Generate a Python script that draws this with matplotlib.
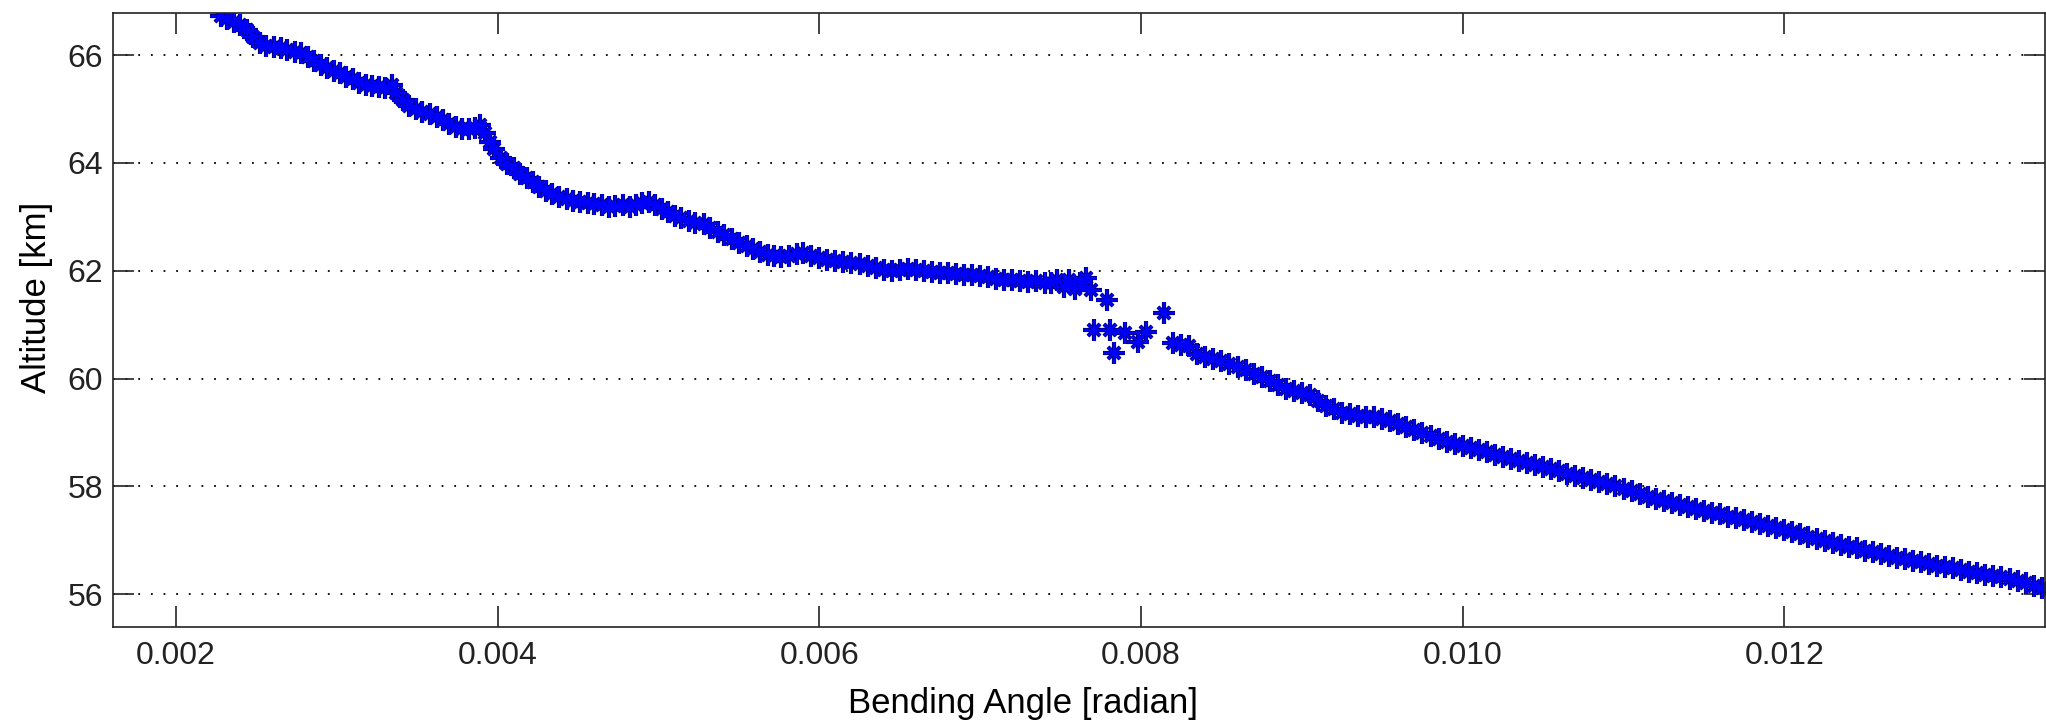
import matplotlib
matplotlib.use("Agg")
import matplotlib.pyplot as plt
from matplotlib.ticker import FormatStrFormatter

# upper part of the profile (above ~64 km)
angle_top = [0.00228, 0.00232, 0.00236, 0.00240, 0.00244, 0.00248, 0.00252, 0.00256, 0.00261, 0.00265,
             0.00269, 0.00274, 0.00278, 0.00282, 0.00286, 0.00290, 0.00294, 0.00298, 0.00302, 0.00306,
             0.00310, 0.00314, 0.00318, 0.00322, 0.00326, 0.00330, 0.00334, 0.00337, 0.00341, 0.00345,
             0.00349, 0.00353, 0.00358, 0.00362, 0.00366, 0.00370, 0.00374, 0.00378, 0.00382, 0.00386,
             0.00389, 0.00392, 0.00395, 0.00398]
alt_top = [66.72, 66.66, 66.62, 66.55, 66.46, 66.33, 66.22, 66.17, 66.15, 66.13,
           66.10, 66.06, 66.03, 65.97, 65.88, 65.81, 65.76, 65.71, 65.66, 65.60,
           65.55, 65.48, 65.45, 65.43, 65.41, 65.38, 65.44, 65.30, 65.17, 65.06,
           65.00, 64.95, 64.90, 64.85, 64.80, 64.72, 64.66, 64.63, 64.62, 64.64,
           64.70, 64.55, 64.39, 64.25]

angle_mid = [0.00402, 0.00406, 0.00410, 0.00414, 0.00418, 0.00422, 0.00426, 0.00430, 0.00434, 0.00438,
             0.00443, 0.00447, 0.00451, 0.00456, 0.00460, 0.00465, 0.00469, 0.00473, 0.00478, 0.00482,
             0.00486, 0.00490, 0.00494, 0.00498, 0.00502, 0.00506, 0.00510, 0.00514, 0.00519, 0.00523,
             0.00528]
alt_mid = [64.09, 63.98, 63.90, 63.80, 63.72, 63.64, 63.56, 63.48, 63.42, 63.37,
           63.33, 63.30, 63.27, 63.25, 63.23, 63.21, 63.18, 63.20, 63.22, 63.19,
           63.21, 63.25, 63.27, 63.22, 63.15, 63.08, 63.02, 62.97, 62.92, 62.89,
           62.86]

angle_flat = [0.00532, 0.00537, 0.00541, 0.00546, 0.00550, 0.00555, 0.00559, 0.00563, 0.00568, 0.00572,
              0.00576, 0.00581, 0.00586, 0.00590, 0.00595, 0.00600, 0.00605, 0.00610, 0.00615, 0.00620,
              0.00625, 0.00630, 0.00635, 0.00640, 0.00645, 0.00650, 0.00655, 0.00660, 0.00665, 0.00670,
              0.00675, 0.00680, 0.00685, 0.00690, 0.00695, 0.00700, 0.00705, 0.00710, 0.00715, 0.00720,
              0.00725, 0.00730, 0.00735, 0.00740, 0.00744, 0.00748, 0.00752, 0.00755, 0.00759, 0.00762,
              0.00766, 0.00769]
alt_flat = [62.80, 62.72, 62.66, 62.58, 62.52, 62.46, 62.40, 62.34, 62.30, 62.27,
            62.25, 62.28, 62.31, 62.33, 62.28, 62.24, 62.20, 62.18, 62.17, 62.14,
            62.12, 62.09, 62.05, 62.01, 62.00, 62.02, 62.03, 62.01, 61.99, 61.98,
            61.96, 61.95, 61.93, 61.92, 61.92, 61.90, 61.88, 61.85, 61.83, 61.82,
            61.80, 61.79, 61.80, 61.78, 61.77, 61.82, 61.70, 61.83, 61.66, 61.78,
            61.86, 61.64]

# scattered points around 0.008 rad
angle_gap = [0.00779, 0.00771, 0.00781, 0.00783, 0.00790, 0.00798, 0.00803, 0.00814]
alt_gap = [61.45, 60.90, 60.90, 60.47, 60.84, 60.68, 60.86, 61.21]

angle_low = [0.00820, 0.00825, 0.00830, 0.00835, 0.00840, 0.00845, 0.00850, 0.00855, 0.00860, 0.00865,
             0.00870, 0.00875, 0.00880, 0.00885, 0.00890, 0.00895, 0.00900, 0.00905, 0.00910, 0.00915,
             0.00920, 0.00925, 0.00930, 0.00935, 0.00940, 0.00945, 0.00950, 0.00955, 0.00960, 0.00965,
             0.00970, 0.00975, 0.00980, 0.00985, 0.00990, 0.00995, 0.01000, 0.01005, 0.01010, 0.01015,
             0.01020, 0.01025, 0.01030, 0.01035, 0.01040, 0.01045, 0.01050, 0.01055, 0.01060, 0.01065,
             0.01070, 0.01075, 0.01080, 0.01085, 0.01090, 0.01095, 0.01100, 0.01105, 0.01110, 0.01115,
             0.01120, 0.01125, 0.01130, 0.01135, 0.01140, 0.01145, 0.01150, 0.01155, 0.01160, 0.01165,
             0.01170, 0.01175, 0.01180, 0.01185, 0.01190, 0.01195, 0.01200, 0.01205, 0.01210, 0.01215,
             0.01220, 0.01225, 0.01230, 0.01235, 0.01240, 0.01245, 0.01250, 0.01255, 0.01260, 0.01265,
             0.01270, 0.01275, 0.01280, 0.01285, 0.01290, 0.01295, 0.01300, 0.01305, 0.01310, 0.01315,
             0.01320, 0.01325, 0.01330, 0.01335, 0.01340, 0.01345, 0.01350, 0.01355, 0.01360, 0.01364]
alt_low = [60.66, 60.63, 60.60, 60.46, 60.40, 60.36, 60.33, 60.27, 60.21, 60.15,
           60.09, 60.03, 59.96, 59.88, 59.80, 59.76, 59.74, 59.70, 59.58, 59.50,
           59.43, 59.37, 59.34, 59.31, 59.29, 59.28, 59.25, 59.21, 59.16, 59.11,
           59.05, 58.99, 58.93, 58.87, 58.83, 58.79, 58.75, 58.72, 58.68, 58.63,
           58.58, 58.54, 58.50, 58.47, 58.43, 58.40, 58.36, 58.33, 58.28, 58.23,
           58.19, 58.15, 58.12, 58.08, 58.05, 58.01, 57.96, 57.91, 57.86, 57.81,
           57.76, 57.73, 57.69, 57.65, 57.62, 57.58, 57.55, 57.51, 57.48, 57.44,
           57.41, 57.37, 57.34, 57.31, 57.27, 57.23, 57.19, 57.15, 57.11, 57.07,
           57.03, 56.99, 56.95, 56.91, 56.88, 56.85, 56.81, 56.78, 56.75, 56.71,
           56.68, 56.65, 56.62, 56.59, 56.56, 56.53, 56.51, 56.48, 56.45, 56.42,
           56.39, 56.36, 56.34, 56.32, 56.29, 56.25, 56.20, 56.16, 56.12, 56.08]

x_ticks = [0.002, 0.004, 0.006, 0.008, 0.010, 0.012]
y_ticks = [56, 58, 60, 62, 64, 66]

angle = angle_top + angle_mid + angle_flat + angle_gap + angle_low
alt = alt_top + alt_mid + alt_flat + alt_gap + alt_low

plt.rcParams['font.family'] = ['Liberation Sans', 'DejaVu Sans']

fig = plt.figure(figsize=(20.46, 7.2), dpi=100)
ax = fig.add_axes([0.0552, 0.129, 0.9445, 0.853])

# matlab style asterisk: plus + cross, dark rim under a blue core
for col, w in [('#00007a', 3.0), ('#0000ff', 1.6)]:
    ax.plot(angle, alt, linestyle='none', marker='+', ms=16, mew=w, color=col)
    ax.plot(angle, alt, linestyle='none', marker='x', ms=9, mew=w, color=col)

ax.set_xlim(0.001608, 0.013623)
ax.set_ylim(55.39, 66.78)
ax.set_xticks(x_ticks)
ax.set_yticks(y_ticks)
ax.xaxis.set_major_formatter(FormatStrFormatter('%.3f'))

ax.yaxis.grid(True, color='black', linestyle=(0, (1, 6)), linewidth=1.3)
ax.xaxis.grid(False)
ax.set_axisbelow(True)

ax.tick_params(direction='in', length=15, width=1.2, labelsize=23, top=True, right=True, pad=7, colors='#222222')
ax.tick_params(axis='x', pad=10)
for s in ax.spines.values():
    s.set_linewidth(1.2)
    s.set_color('#222222')

ax.set_xlabel('Bending Angle [radian]', fontsize=25)
ax.set_ylabel('Altitude [km]', fontsize=25)
# labels sit at the figure centre (x) and slightly above axes centre (y), like the original
ax.xaxis.set_label_coords(0.4709, -0.098)
ax.yaxis.set_label_coords(-0.031, 0.537)

fig.savefig('out.png', dpi=100)
